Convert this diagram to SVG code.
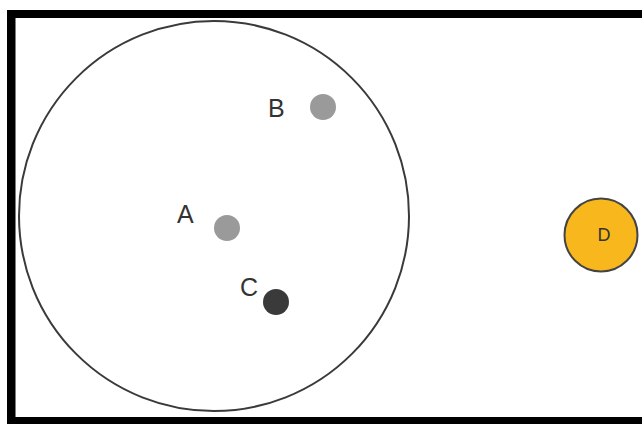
<svg xmlns="http://www.w3.org/2000/svg" width="642" height="424" viewBox="0 0 642 424">
<style>
.lbl{font-family:"Liberation Sans",Arial,sans-serif;font-size:25px;fill:#333}
.pt{fill:#9a9a9a}
</style>
<rect width="642" height="424" fill="#fff"/>
<g id="frame" fill="#000">
<rect x="7" y="10" width="635" height="8"/>
<rect x="7" y="10" width="8.5" height="414"/>
<rect x="7" y="417" width="635" height="7"/>
</g>
<g id="region">
<circle cx="214" cy="216" r="195" fill="none" stroke="#3a3a3a" stroke-width="2"/>
</g>
<g id="connectors"></g>
<g id="nodeB">
<circle class="pt" cx="323" cy="107" r="13"/>
<text class="lbl" x="268" y="117">B</text>
</g>
<g id="nodeA">
<circle class="pt" cx="227" cy="228" r="13"/>
<text class="lbl" x="177" y="223">A</text>
</g>
<g id="nodeC">
<circle cx="276" cy="302" r="13" fill="#3a3a3a"/>
<text class="lbl" x="240" y="296">C</text>
</g>
<g id="nodeD">
<circle cx="601" cy="235" r="36.5" fill="#f7b71d" stroke="#444" stroke-width="2"/>
<text x="604" y="241" text-anchor="middle" font-family="Liberation Sans,Arial,sans-serif" font-size="18" fill="#333">D</text>
</g>
</svg>
